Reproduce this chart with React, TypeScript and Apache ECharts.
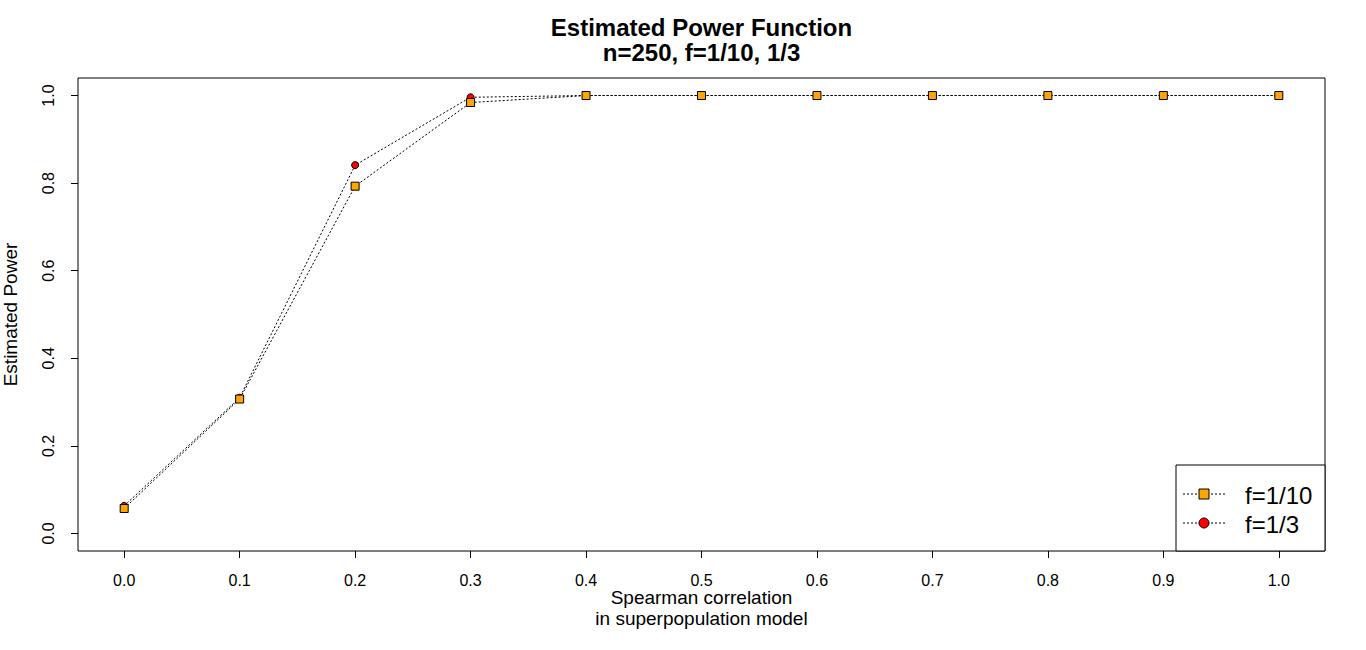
import React, { useEffect, useRef } from "react";
import * as echarts from "echarts";

const xValues = [0.0, 0.1, 0.2, 0.3, 0.4, 0.5, 0.6, 0.7, 0.8, 0.9, 1.0];
const powerF10 = [0.057, 0.307, 0.793, 0.984, 1.0, 1.0, 1.0, 1.0, 1.0, 1.0, 1.0];
const powerF3 = [0.063, 0.31, 0.841, 0.996, 1.0, 1.0, 1.0, 1.0, 1.0, 1.0, 1.0];
const xTicks = [0.0, 0.1, 0.2, 0.3, 0.4, 0.5, 0.6, 0.7, 0.8, 0.9, 1.0];
const yTicks = [0.0, 0.2, 0.4, 0.6, 0.8, 1.0];
const seriesNames = ["f=1/10", "f=1/3"];
const titleLines = ["Estimated Power Function", "n=250, f=1/10, 1/3"];

const FONT = "'Liberation Sans', Arial, sans-serif";

export default function App() {
  const ref = useRef<HTMLDivElement>(null);
  useEffect(() => {
    document.body.style.margin = "0";
    if (!ref.current) return;
    const chart = echarts.init(ref.current, undefined, { renderer: "svg" });
    const dotted = { color: "#000", width: 1, type: [2, 2] as number[] };
    const legX = 1176, legY = 465, legW = 149, legH = 86;
    const titleStyle = { fontFamily: FONT, fontSize: 24, fontWeight: "bold", color: "#000", lineHeight: 24 };
    chart.setOption({
      animation: false,
      backgroundColor: "#fff",
      textStyle: { fontFamily: FONT },
      title: [
        { text: titleLines[0], left: 701.5, top: 15, textAlign: "center", padding: 0, textStyle: titleStyle },
        { text: titleLines[1], left: 701.5, top: 40, textAlign: "center", padding: 0, textStyle: titleStyle },
      ],
      grid: {
        left: 78, right: 41, top: 78, bottom: 99,
        outerBoundsMode: "none",
        containLabel: false,
        show: true, borderColor: "#000", borderWidth: 1, backgroundColor: "transparent",
      },
      xAxis: {
        type: "value",
        min: -0.04,
        max: 1.04,
        name: "Spearman correlation\nin superpopulation model",
        nameLocation: "middle",
        nameGap: 36,
        nameMoveOverlap: false,
        nameTextStyle: { fontFamily: FONT, fontSize: 19, color: "#000", lineHeight: 21 },
        axisLine: { show: false, onZero: false },
        splitLine: { show: false },
        axisTick: { show: true, length: 7, customValues: xTicks, lineStyle: { color: "#000", width: 1 } },
        axisLabel: {
          customValues: xTicks,
          margin: 21,
          fontSize: 16,
          color: "#000",
          fontFamily: FONT,
          formatter: (v: number) => v.toFixed(1),
        },
      },
      yAxis: {
        type: "value",
        min: -0.04,
        max: 1.04,
        name: "Estimated Power",
        nameLocation: "middle",
        nameGap: 58,
        nameMoveOverlap: false,
        nameTextStyle: { fontFamily: FONT, fontSize: 19, color: "#000" },
        axisLine: { show: false, onZero: false },
        splitLine: { show: false },
        axisTick: { show: true, length: 7, customValues: yTicks, lineStyle: { color: "#000", width: 1 } },
        axisLabel: {
          customValues: yTicks,
          rotate: 90,
          margin: 22,
          fontSize: 16,
          color: "#000",
          fontFamily: FONT,
          formatter: (v: number) => v.toFixed(1),
        },
      },
      series: [
        {
          name: seriesNames[1],
          type: "line",
          data: xValues.map((x, i) => [x, powerF3[i]]),
          symbol: "circle",
          symbolSize: 7,
          lineStyle: dotted,
          itemStyle: { color: "#FF0000", borderColor: "#000", borderWidth: 1 },
          z: 2,
        },
        {
          name: seriesNames[0],
          type: "line",
          data: xValues.map((x, i) => [x, powerF10[i]]),
          symbol: "rect",
          symbolSize: 8,
          lineStyle: dotted,
          itemStyle: { color: "#FFA500", borderColor: "#000", borderWidth: 1 },
          z: 3,
        },
      ],
      graphic: [
        {
          type: "rect",
          shape: { x: legX, y: legY, width: legW, height: legH },
          style: { fill: "#fff", stroke: "#000", lineWidth: 1 },
          z: 10,
        },
        {
          type: "line",
          shape: { x1: 1183, y1: 494, x2: 1225, y2: 494 },
          style: { stroke: "#000", lineWidth: 1, lineDash: [2, 2] },
          z: 11,
        },
        {
          type: "rect",
          shape: { x: 1199, y: 489, width: 10, height: 10 },
          style: { fill: "#FFA500", stroke: "#000", lineWidth: 1 },
          z: 12,
        },
        {
          type: "line",
          shape: { x1: 1183, y1: 523, x2: 1225, y2: 523 },
          style: { stroke: "#000", lineWidth: 1, lineDash: [2, 2] },
          z: 11,
        },
        {
          type: "circle",
          shape: { cx: 1204, cy: 523, r: 5 },
          style: { fill: "#FF0000", stroke: "#000", lineWidth: 1 },
          z: 12,
        },
        {
          type: "text",
          x: 1245,
          y: 495,
          style: { text: seriesNames[0], fontFamily: FONT, fontSize: 24, fill: "#000", verticalAlign: "middle" },
          z: 12,
        },
        {
          type: "text",
          x: 1245,
          y: 524,
          style: { text: seriesNames[1], fontFamily: FONT, fontSize: 24, fill: "#000", verticalAlign: "middle" },
          z: 12,
        },
      ],
    });
    return () => chart.dispose();
  }, []);
  return <div ref={ref} style={{ width: 1366, height: 650 }} />;
}
